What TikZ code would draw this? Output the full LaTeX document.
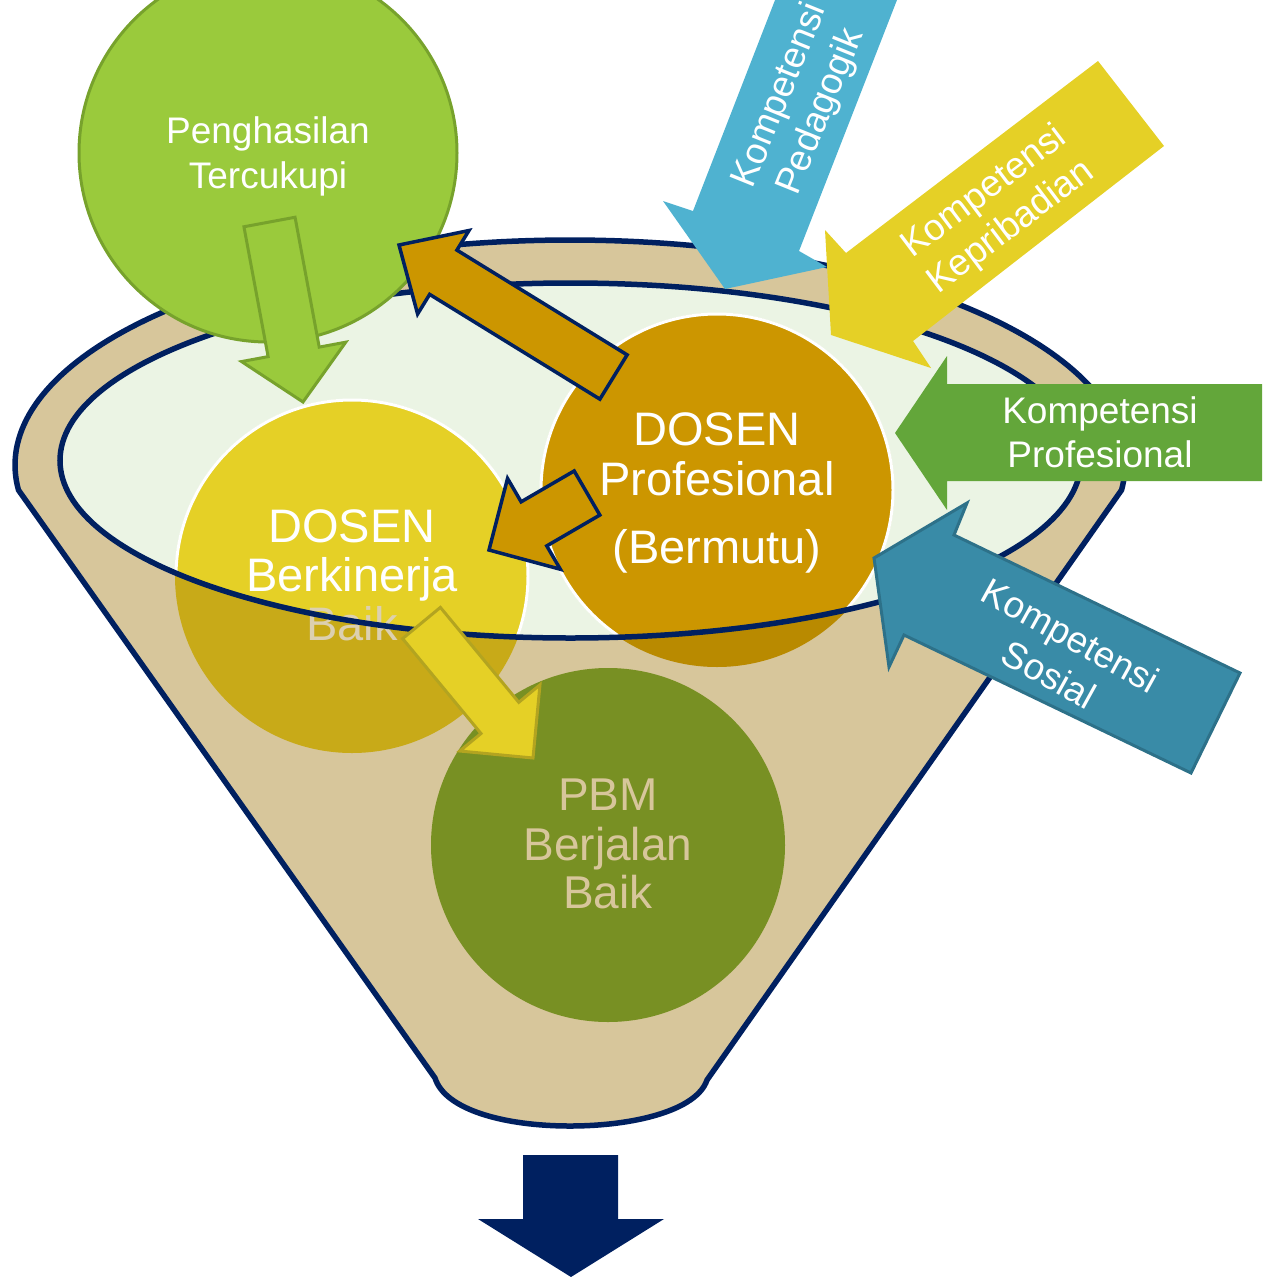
\documentclass[tikz,border=0pt]{standalone}
\usepackage{fontspec}
\setmainfont{Liberation Sans}
\usetikzlibrary{calc}
\definecolor{navy}{HTML}{002060}
\definecolor{funnelbeige}{HTML}{D7C69B}
\definecolor{palegreen}{HTML}{EBF4E4}
\definecolor{ylw}{HTML}{E5D026}
\definecolor{ylwdark}{HTML}{C8AA18}
\definecolor{ylwborder}{HTML}{B3A420}
\definecolor{orng}{HTML}{CC9600}
\definecolor{orngdark}{HTML}{B98A00}
\definecolor{olv}{HTML}{789023}
\definecolor{lime}{HTML}{9ACA3C}
\definecolor{limeborder}{HTML}{77A22C}
\definecolor{skyblue}{HTML}{4FB2D0}
\definecolor{grn}{HTML}{63A63A}
\definecolor{teal}{HTML}{398BA7}
\definecolor{tealborder}{HTML}{2D7189}
\definecolor{baiktext}{HTML}{DCD0B0}
\newcommand{\blockarr}[6]{%
  \coordinate (ba-h) at ($(#2)!#5!(#1)$);
  \path[#6] ($(#1)!#3!90:(#2)$) -- ($(ba-h)!#3!90:(#2)$) -- ($(ba-h)!#4!90:(#2)$) -- (#2)
    -- ($(ba-h)!#4!-90:(#2)$) -- ($(ba-h)!#3!-90:(#2)$) -- ($(#1)!#3!-90:(#2)$) -- cycle;}
\tikzset{
  bigtxt/.style={text=white, font=\fontsize{47}{50}\selectfont, anchor=base, inner sep=0pt},
  pbmtxt/.style={text=funnelbeige, font=\fontsize{46}{50}\selectfont, anchor=base, inner sep=0pt},
  smalltxt/.style={text=white, font=\fontsize{37}{44}\selectfont, anchor=base, inner sep=0pt},
  rottxt/.style={text=white, font=\fontsize{37}{44}\selectfont, align=center, inner sep=0pt},
  orangearrow/.style={fill=orng, draw=navy, line width=3.5pt},
}
\begin{document}
\begin{tikzpicture}[x=1pt,y=-1pt,line join=miter]
\useasboundingbox (0,0) rectangle (1262,1277);
\clip (0,0) rectangle (1262,1277);

% ---- funnel body
\path[fill=funnelbeige, draw=navy, line width=5.5pt]
  plot[domain=173.6:366.4, samples=150] ({570+555*cos(\x)},{465+225*sin(\x)})
  -- (707,1080) .. controls (697,1110) and (635,1126) .. (570,1126)
  .. controls (505,1126) and (445,1110) .. (435,1078) -- cycle;
\coordinate (rimc) at (570.5,460.5);
\fill[palegreen] (rimc) ellipse[x radius=510.5, y radius=177.5];

% ---- circles inside the funnel
\coordinate (pbm) at (608,845);
\coordinate (kin) at (352,576);
\coordinate (pro) at (717,490);
\fill[olv] (pbm) circle[radius=177];
\fill[ylwdark] (kin) circle[radius=177];
\fill[orngdark] (pro) circle[radius=177];
\begin{scope}
  \clip (rimc) ellipse[x radius=510.5, y radius=177.5];
  \path[fill=ylw, draw=white, line width=3pt] (kin) circle[radius=176];
  \path[fill=orng, draw=white, line width=3pt] (pro) circle[radius=176];
\end{scope}

\node[bigtxt] (kin1) at (352,542) {DOSEN};
\node[bigtxt] (kin2) at (352,591) {Berkinerja};
\node[bigtxt, text=baiktext] (kin3) at (352,640) {Baik};
\node[bigtxt] (pro1) at (717,445) {DOSEN};
\node[bigtxt] (pro2) at (717,495) {Profesional};
\node[bigtxt] (pro3) at (717,563) {(Bermutu)};

\draw[navy, line width=5.5pt] (rimc) ellipse[x radius=510.5, y radius=177.5];

\node[pbmtxt] (pbm1) at (608,810) {PBM};
\node[pbmtxt] (pbm2) at (608,860) {Berjalan};
\node[pbmtxt] (pbm3) at (608,908) {Baik};

% ---- Penghasilan circle
\coordinate (pen) at (268,153);
\path[fill=lime, draw=limeborder, line width=3pt] (pen) circle[radius=189];
\node[smalltxt] (pen1) at (268,143) {Penghasilan};
\node[smalltxt] (pen2) at (268,188) {Tercukupi};

% ---- inner block arrows
\coordinate (ga-t) at (269.5,222);  \coordinate (ga-p) at (303,402);
\blockarr{ga-t}{ga-p}{26pt}{53pt}{51pt}{fill=lime, draw=limeborder, line width=3pt}
\coordinate (ya-t) at (421.5,623);  \coordinate (ya-p) at (533,758);
\blockarr{ya-t}{ya-p}{24.5pt}{52pt}{52pt}{fill=ylw, draw=ylwborder, line width=3pt}
\coordinate (oa-t) at (613.5,377);  \coordinate (oa-p) at (399,245);
\blockarr{oa-t}{oa-p}{26pt}{49pt}{52pt}{orangearrow}
\coordinate (ob-t) at (587,493);    \coordinate (ob-p) at (489,550);
\blockarr{ob-t}{ob-p}{25.5pt}{52.5pt}{52pt}{orangearrow}

% ---- Kompetensi arrows
\fill[skyblue] (786.7,-30) -- (693,211) -- (663,201) -- (725,289) -- (827,267) -- (799,251) -- (908.7,-30) -- cycle;
\node[rottxt, rotate=68] (ped) at (801,104) {Kompetensi\\Pedagogik};

\fill[ylw] (1098,61) -- (846,253) -- (825,230) -- (831,335) -- (931,368) -- (913,341) -- (1164,146) -- cycle;
\node[rottxt, rotate=37] (kep) at (998,210) {Kompetensi\\Kepribadian};

\fill[grn] (1270,384) -- (947,384) -- (947,356) -- (895,433) -- (947,510) -- (947,481) -- (1270,481) -- cycle;
\node[smalltxt] (prof1) at (1100,423) {Kompetensi};
\node[smalltxt] (prof2) at (1100,467) {Profesional};

\path[fill=teal, draw=tealborder, line width=3pt] (1240,673) -- (954,535) -- (967,503) -- (874,558) -- (889,667) -- (904,635) -- (1191,773) -- cycle;
\node[rottxt, rotate=-29] (sos) at (1060,655) {Kompetensi\\Sosial};

% ---- output arrow
\fill[navy] (523,1155) -- (618,1155) -- (618,1219) -- (664,1219) -- (571,1277) -- (478,1219) -- (523,1219) -- cycle;
\end{tikzpicture}
\end{document}
